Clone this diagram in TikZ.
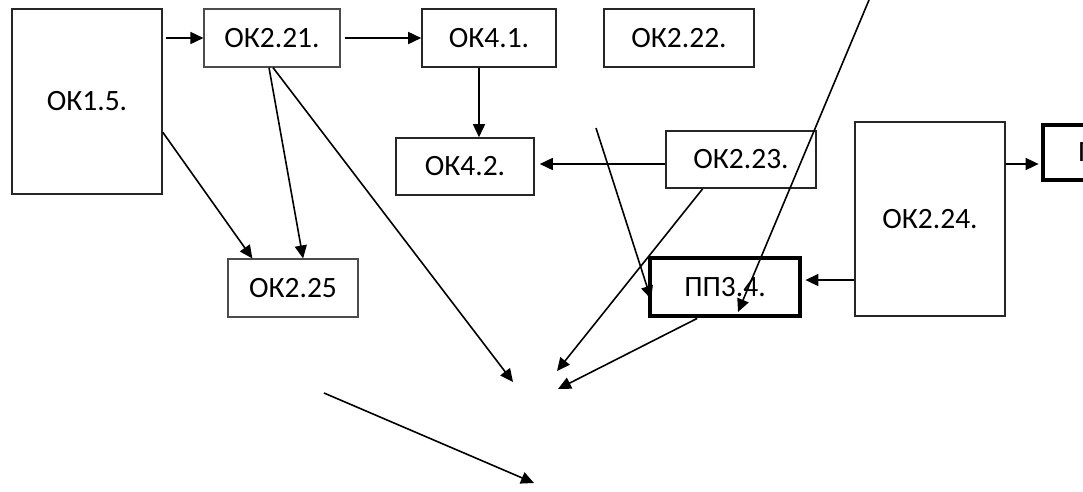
\documentclass[tikz,border=0pt]{standalone}
\usepackage{fontspec}
\setmainfont{Carlito}
\usetikzlibrary{arrows.meta,calc}
\tikzset{
  box/.style={draw=black!85, line width=1.6pt, inner sep=0pt, font=\fontsize{29.5}{34}\selectfont, fill=white},
  lightbox/.style={box, draw=black!70, line width=1.1pt},
  thickbox/.style={box, draw=black, line width=4.8pt},
  arr/.style={line width=1.6pt, -{Triangle[length=13pt,width=12pt]}},
}
\begin{document}
\begin{tikzpicture}[x=1pt,y=-1pt]
\useasboundingbox (0,0) rectangle (1083,491);
\clip (0,0) rectangle (1083,491);
\fill[white] (0,0) rectangle (1083,491);
% nodes
\node[box, minimum width=150pt, minimum height=185pt] (ok15) at (87,101.5) {\raisebox{-7pt}{ОК1.5.}};
\node[lightbox, minimum width=136pt, minimum height=58pt] (ok221) at (272,38) {ОК2.21.};
\node[box, minimum width=134pt, minimum height=58pt] (ok41) at (489,38) {ОК4.1.};
\node[box, minimum width=150pt, minimum height=58pt] (ok222) at (679,38) {ОК2.22.};
\node[box, minimum width=138pt, minimum height=57pt] (ok42) at (465,166.5) {ОК4.2.};
\node[box, minimum width=150pt, minimum height=57pt] (ok223) at (741,159.5) {ОК2.23.};
\node[box, minimum width=150pt, minimum height=194pt] (ok224) at (930,219) {ОК2.24.};
\node[thickbox, minimum width=150pt, minimum height=55pt, text width=80pt, align=left] (pp2) at (1118,152.5) {П};
\node[thickbox, minimum width=150pt, minimum height=58pt] (pp34) at (725,287) {ПП3.4.};
\node[lightbox, minimum width=130pt, minimum height=58pt] (ok225) at (293,288) {ОК2.25};
% free ends
\coordinate (c1) at (513,382);
\coordinate (c2) at (557,371);
\coordinate (c3) at (558,389);
\coordinate (s1) at (869,0);
\coordinate (t1) at (738,312);
\coordinate (s2) at (596,128);
\coordinate (t2) at (651,299);
\coordinate (s3) at (324,393);
\coordinate (t3) at (534,483);
% connectors
\draw[arr] ([xshift=3pt]ok15.east |- ok221.west) -- (ok221.west);
\draw[arr] ([xshift=4pt]ok221.east) -- (ok41.west);
\draw[arr] ([xshift=-10pt]ok41.south) -- ([xshift=-10pt]ok41.south |- ok42.north);
\draw[arr] ([yshift=-4.5pt]ok223.west) -- ([yshift=-4.5pt,xshift=5pt]ok223.west -| ok42.east);
\draw[arr] ([yshift=-11.5pt]ok224.east |- pp2.west) -- ([yshift=-11.5pt,xshift=-2pt]pp2.west);
\draw[arr] ([yshift=7pt]ok224.west |- pp34.east) -- ([yshift=7pt,xshift=3pt]pp34.east);
\draw[arr] ($(ok221.south west)!0.478!(ok221.south east)$) -- ($(ok225.north west)!0.577!(ok225.north east)$);
\draw[arr] ($(ok15.north east)!0.665!(ok15.south east)$) -- ($(ok225.north west)!0.19!(ok225.north east)$);
\draw[arr] ($(ok221.south west)!0.507!(ok221.south east)$) -- (c1);
\draw[arr] ($(ok223.south west)!0.247!(ok223.south east)$) -- (c2);
\draw[arr] ($(pp34.south west)!0.32!(pp34.south east)$) -- (c3);
\draw[arr] (s1) -- (t1);
\draw[arr] (s2) -- (t2);
\draw[arr] (s3) -- (t3);
\end{tikzpicture}
\end{document}
